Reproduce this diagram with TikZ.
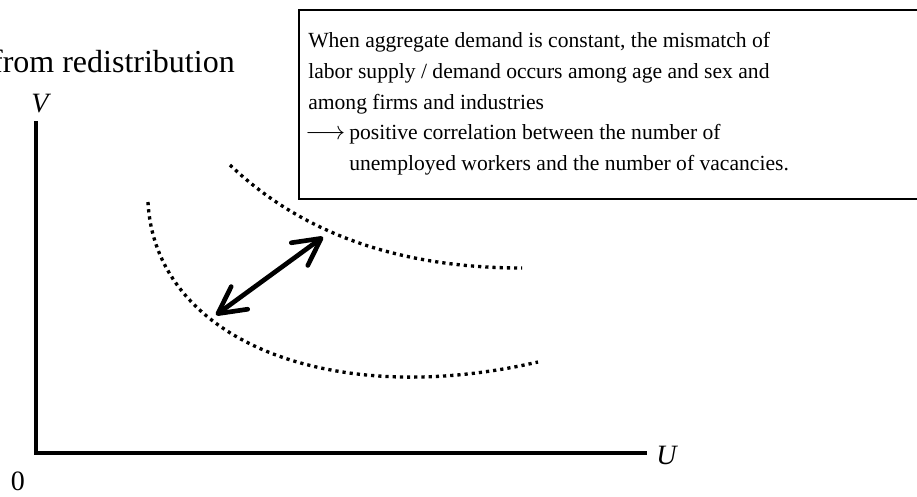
\documentclass[tikz,border=0pt]{standalone}
\usepackage{fontspec}
\setmainfont{Liberation Serif}
\usepackage{tikz}
\usetikzlibrary{arrows.meta,positioning}
\tikzset{
  axis/.style={line width=2.4pt, line cap=rect},
  curve/.style={line width=2.5pt, dash pattern=on 2.4pt off 3pt},
  move/.style={line width=3.5pt, line cap=round,
    {Straight Barb[length=20pt, width=21pt, round]}-{Straight Barb[length=20pt, width=21pt, round]}},
  note/.style={inner sep=0pt, align=left, font=\fontsize{16.2}{23}\selectfont},
  lbl/.style={inner sep=0pt, font=\fontsize{21}{24}\selectfont\itshape},
  ttl/.style={inner sep=0pt, font=\fontsize{24}{28}\selectfont},
}
\begin{document}
\begin{tikzpicture}[x=0.75pt, y=-0.75pt]
\useasboundingbox (0,0) rectangle (917,496);
% title and explanation box
\node[ttl, anchor=base east] (title) at (235,72) {from redistribution};
\node[draw, line width=1.2pt, minimum width=660pt, minimum height=189*0.75pt, anchor=north west, inner sep=0pt] (frame) at (298,9) {};
\node[note, anchor=north west] (txt) at (308,32.5) {When aggregate demand is constant, the mismatch of\\
labor supply / demand occurs among age and sex and\\
among firms and industries\\
\makebox[30.75pt][l]{\kern-2.25pt\scalebox{1.08}[1.12]{$\longrightarrow$}}positive correlation between the number of\\
\hspace*{30.75pt}unemployed workers and the number of vacancies.};
% axes
\coordinate (o) at (36,453);
\coordinate (vtop) at (36,123);
\coordinate (uend) at (645,453);
\draw[axis] (vtop) -- (o) -- (uend);
\node[lbl] (vlab) at (40,104) {V};
\node[lbl, anchor=west] (ulab) at (656,455) {U};
\node[lbl, font=\fontsize{21}{24}\selectfont] (zero) at (18,481) {0};
% UV curves
\coordinate (a0) at (230,165);
\coordinate (a1) at (522,268);
\coordinate (b0) at (148,202);
\coordinate (b1) at (538,362);
\draw[curve] (a0) .. controls (290,222) and (380,268) .. (a1);
\draw[curve] (b0) .. controls (155,340) and (330,410) .. (b1);
% shift between curves
\coordinate (p) at (216,315);
\coordinate (q) at (323,237);
\draw[move] (p) -- (q);
\end{tikzpicture}
\end{document}
